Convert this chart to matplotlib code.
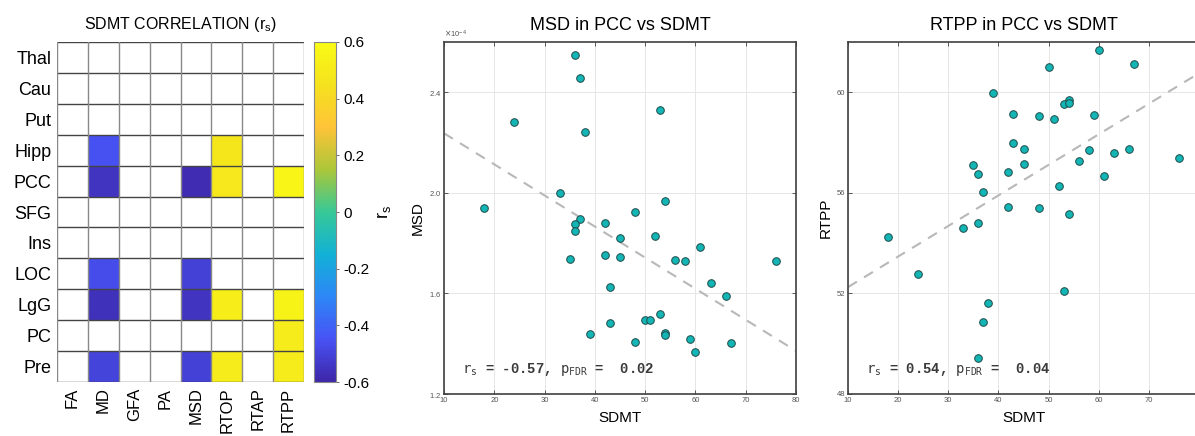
#!/usr/bin/env python3
# -*- coding: utf-8 -*-

import numpy as np
import matplotlib as mpl
import matplotlib.pyplot as plt
from matplotlib.colors import LinearSegmentedColormap
from matplotlib.ticker import ScalarFormatter

OUT_FIG = "out.png"

mpl.rcParams["font.family"] = ["Liberation Sans", "DejaVu Sans"]

# heatmap data (NaN = not significant)
REGIONS = ["Thal", "Cau", "Put", "Hipp", "PCC", "SFG", "Ins", "LOC", "LgG", "PC", "Pre"]
METRICS = ["FA", "MD", "GFA", "PA", "MSD", "RTOP", "RTAP", "RTPP"]
nan = np.nan
RS = [
    [nan, nan, nan, nan, nan, nan, nan, nan],
    [nan, nan, nan, nan, nan, nan, nan, nan],
    [nan, nan, nan, nan, nan, nan, nan, nan],
    [nan, -0.45, nan, nan, nan, 0.47, nan, nan],
    [nan, -0.55, nan, nan, -0.58, 0.48, nan, 0.56],
    [nan, nan, nan, nan, nan, nan, nan, nan],
    [nan, nan, nan, nan, nan, nan, nan, nan],
    [nan, -0.47, nan, nan, -0.51, nan, nan, nan],
    [nan, -0.56, nan, nan, -0.55, 0.52, nan, 0.55],
    [nan, nan, nan, nan, nan, nan, nan, 0.50],
    [nan, -0.50, nan, nan, -0.51, 0.50, nan, 0.50],
]

# scatter data
SDMT_MSD = [36, 37, 53, 24, 38, 33, 18, 54, 48, 37, 36, 42, 36, 52, 45, 61, 35, 42,
            45, 56, 58, 76, 63, 43, 66, 53, 50, 51, 43, 39, 54, 54, 48, 59, 67, 60]
MSD = [2.55, 2.458, 2.331, 2.281, 2.242, 2.00, 1.940, 1.968, 1.923, 1.898, 1.875, 1.879,
       1.850, 1.829, 1.819, 1.786, 1.737, 1.753, 1.745, 1.733, 1.729, 1.728, 1.643, 1.627,
       1.590, 1.518, 1.495, 1.495, 1.481, 1.440, 1.442, 1.436, 1.405, 1.420, 1.402, 1.367]

SDMT_RTPP = [60, 50, 67, 39, 54, 53, 54, 43, 48, 51, 59, 43, 45, 58, 63, 66, 76, 56,
             35, 45, 36, 42, 61, 52, 37, 42, 48, 54, 33, 36, 18, 24, 53, 38, 37, 36]
RTPP = [61.68, 61.02, 61.11, 59.96, 59.68, 59.52, 59.59, 59.13, 59.06, 58.94, 59.10, 57.99,
        57.76, 57.70, 57.59, 57.74, 57.38, 57.26, 57.09, 57.14, 56.75, 56.81, 56.69, 56.26,
        56.05, 55.44, 55.40, 55.17, 54.60, 54.79, 54.25, 52.76, 52.08, 51.60, 50.86, 49.44]

STATS_MSD = "-0.57"
STATS_MSD_P = "0.02"
STATS_RTPP = "0.54"
STATS_RTPP_P = "0.04"

PARULA = LinearSegmentedColormap.from_list("parula", [
    (0.2422, 0.1504, 0.6603),
    (0.2810, 0.3228, 0.9579),
    (0.1786, 0.5289, 0.9682),
    (0.0689, 0.6948, 0.8394),
    (0.2161, 0.7843, 0.5923),
    (0.6720, 0.7793, 0.2227),
    (0.9970, 0.7659, 0.2199),
    (0.9598, 0.8870, 0.1165),
    (0.9769, 0.9839, 0.0805),
])

W, H = 1195, 436


def fig_rect(x0, y0, x1, y1):
    # pixel box (top-left origin) -> figure fraction
    return [x0 / W, 1 - y1 / H, (x1 - x0) / W, (y1 - y0) / H]


def style_scatter(ax):
    for side in ax.spines:
        ax.spines[side].set_color("#404040")
        ax.spines[side].set_linewidth(1.2)
    ax.tick_params(axis="both", which="major", labelsize=5.5, length=3, width=0.6,
                   direction="in", top=True, right=True, colors="#404040",
                   labelcolor="#555555", pad=2)
    ax.grid(True, color="#e6e6e6", linewidth=0.7)
    ax.set_axisbelow(True)


def scatter_panel(ax, x, y, xlim, ylim, yticks, title, ylabel, rs, p):
    x = np.asarray(x, dtype=float)
    y = np.asarray(y, dtype=float)
    ax.scatter(x, y, s=30, c="#13b5b5", edgecolors="#1e4a4a", linewidths=0.7, zorder=3)
    k, b = np.polyfit(x, y, 1)
    xx = np.array(xlim, dtype=float)
    ax.plot(xx, k * xx + b, linestyle=(0, (5, 4)), color="#b8b8b8", linewidth=1.5, zorder=2)
    ax.set_xlim(xlim)
    ax.set_ylim(ylim)
    ax.set_xticks(range(10, 81, 10))
    ax.set_yticks(yticks)
    ax.set_title(title, fontsize=13, pad=9)
    ax.set_xlabel("SDMT", fontsize=11, labelpad=5)
    ax.set_ylabel(ylabel, fontsize=11, labelpad=3)
    ax.text(0.05, 0.045,
            r"$\mathtt{r_s}$" + " = " + rs + ", " + r"$\mathtt{p_{FDR}}$" + " =  " + p,
            transform=ax.transAxes, family=["Liberation Mono", "DejaVu Sans Mono"],
            fontsize=10, fontweight="bold", color="#3a3a3a", ha="left", va="bottom")
    style_scatter(ax)


def main():
    fig = plt.figure(figsize=(W / 100, H / 100), dpi=100)

    # heatmap
    ax = fig.add_axes(fig_rect(57, 42, 304, 382))
    data = np.ma.masked_invalid(np.array(RS))
    mesh = ax.pcolormesh(np.arange(len(METRICS) + 1), np.arange(len(REGIONS) + 1), data,
                         cmap=PARULA, vmin=-0.6, vmax=0.6)
    ax.set_xlim(0, len(METRICS))
    ax.set_ylim(len(REGIONS), 0)
    for i in range(len(REGIONS) + 1):
        ax.axhline(i, color="#444444", linewidth=1.0, zorder=3)
    for j in range(len(METRICS) + 1):
        ax.axvline(j, color="#888888", linewidth=1.0, zorder=3)
    ax.set_xticks(np.arange(len(METRICS)) + 0.5)
    ax.set_xticklabels(METRICS, rotation=90, fontsize=12)
    ax.set_yticks(np.arange(len(REGIONS)) + 0.5)
    ax.set_yticklabels(REGIONS, fontsize=13)
    ax.tick_params(length=0, pad=4)
    for side in ax.spines:
        ax.spines[side].set_visible(False)
    ax.set_title(r"SDMT CORRELATION (r$_\mathregular{s}$)", fontsize=11.5, pad=9)

    cax = fig.add_axes(fig_rect(314, 42, 336, 382))
    cb = fig.colorbar(mesh, cax=cax, ticks=[-0.6, -0.4, -0.2, 0, 0.2, 0.4, 0.6])
    cb.ax.set_yticklabels(["-0.6", "-0.4", "-0.2", "0", "0.2", "0.4", "0.6"])
    cb.ax.tick_params(labelsize=11, length=2, width=0.6, color="#555555")
    cb.outline.set_edgecolor("#888888")
    cb.set_label(r"r$_\mathregular{s}$", fontsize=13, rotation=90, labelpad=4)

    # MSD in PCC
    ax1 = fig.add_axes(fig_rect(444, 42, 796, 394))
    msd = np.array(MSD) * 1e-4
    scatter_panel(ax1, SDMT_MSD, msd, (10, 80), (1.2e-4, 2.6e-4),
                  [1.2e-4, 1.6e-4, 2.0e-4, 2.4e-4], "MSD in PCC vs SDMT", "MSD",
                  STATS_MSD, STATS_MSD_P)
    fmt = ScalarFormatter(useMathText=True)
    fmt.set_powerlimits((-3, 3))
    ax1.yaxis.set_major_formatter(fmt)
    ax1.yaxis.get_offset_text().set_fontsize(5.5)
    ax1.yaxis.get_offset_text().set_color("#555555")

    # RTPP in PCC
    ax2 = fig.add_axes(fig_rect(848, 42, 1199, 394))
    scatter_panel(ax2, SDMT_RTPP, RTPP, (10, 80), (48, 62), [48, 52, 56, 60],
                  "RTPP in PCC vs SDMT", "RTPP", STATS_RTPP, STATS_RTPP_P)

    fig.savefig(OUT_FIG, dpi=100)
    plt.close(fig)


if __name__ == "__main__":
    main()
